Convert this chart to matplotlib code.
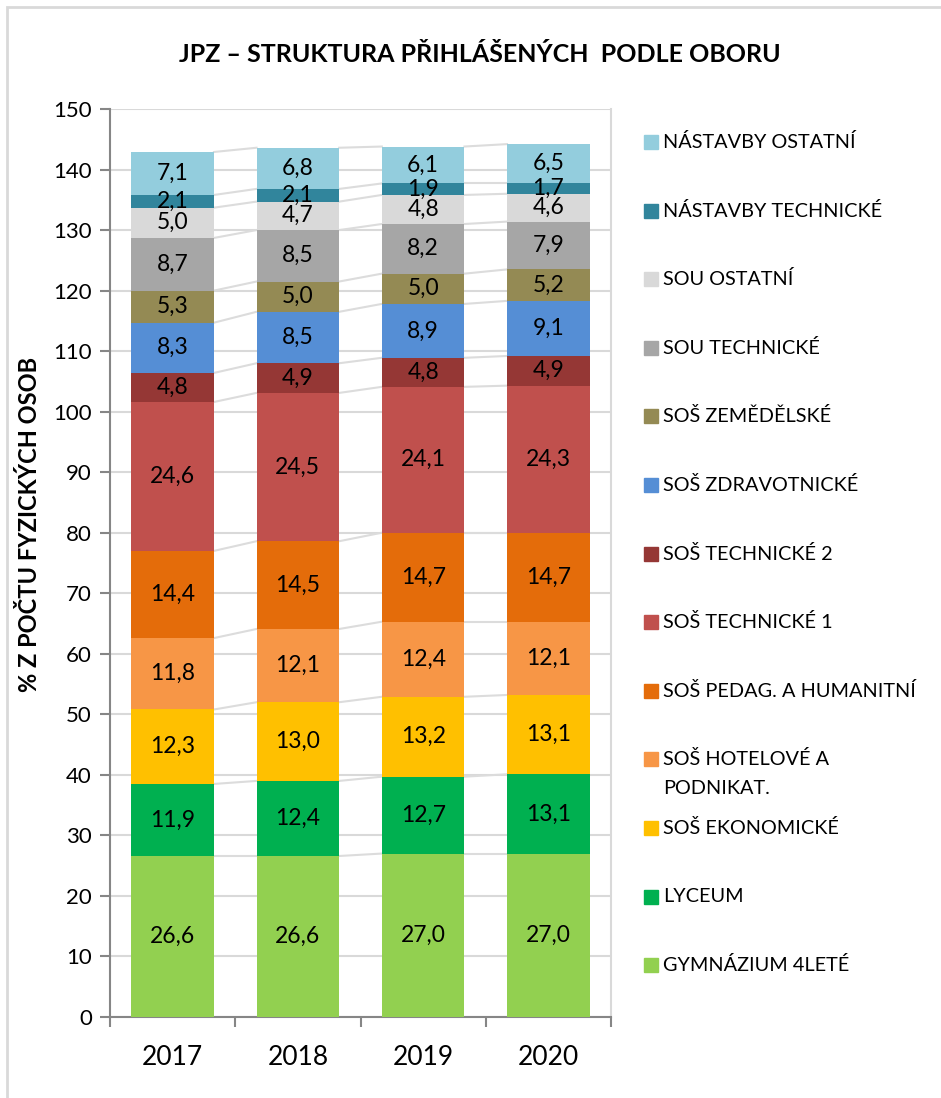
import numpy as np
import matplotlib.pyplot as plt
from matplotlib.patches import Rectangle

plt.rcParams['font.family'] = ['Lato', 'DejaVu Sans']

years = ['2017', '2018', '2019', '2020']

# bottom to top
obory = ['GYMNÁZIUM 4LETÉ', 'LYCEUM', 'SOŠ EKONOMICKÉ', 'SOŠ HOTELOVÉ A\nPODNIKAT.',
         'SOŠ PEDAG. A HUMANITNÍ', 'SOŠ TECHNICKÉ 1', 'SOŠ TECHNICKÉ 2', 'SOŠ ZDRAVOTNICKÉ',
         'SOŠ ZEMĚDĚLSKÉ', 'SOU TECHNICKÉ', 'SOU OSTATNÍ', 'NÁSTAVBY TECHNICKÉ', 'NÁSTAVBY OSTATNÍ']

gymnazium = [26.6, 26.6, 27.0, 27.0]
lyceum = [11.9, 12.4, 12.7, 13.1]
ekonomicke = [12.3, 13.0, 13.2, 13.1]
hotelove = [11.8, 12.1, 12.4, 12.1]
pedag = [14.4, 14.5, 14.7, 14.7]
tech1 = [24.6, 24.5, 24.1, 24.3]
tech2 = [4.8, 4.9, 4.8, 4.9]
zdrav = [8.3, 8.5, 8.9, 9.1]
zemed = [5.3, 5.0, 5.0, 5.2]
sou_tech = [8.7, 8.5, 8.2, 7.9]
sou_ost = [5.0, 4.7, 4.8, 4.6]
nast_tech = [2.1, 2.1, 1.9, 1.7]
nast_ost = [7.1, 6.8, 6.1, 6.5]

series = [gymnazium, lyceum, ekonomicke, hotelove, pedag, tech1, tech2, zdrav,
          zemed, sou_tech, sou_ost, nast_tech, nast_ost]

colors = ['#92D050', '#00B050', '#FFC000', '#F79646', '#E46C0A', '#C0504D', '#953735',
          '#558ED5', '#948A54', '#A6A6A6', '#D9D9D9', '#31859C', '#93CDDD']

W, H = 941, 1098
fig = plt.figure(figsize=(W/100, H/100), dpi=100)
ax = fig.add_axes([110/W, 1-1017/H, 501/W, 908/H])

x = np.arange(len(years))
bw = 0.66
bottom = np.zeros(len(years))
for vals, col in zip(series, colors):
    vals = np.array(vals)
    ax.bar(x, vals, bw, bottom=bottom, color=col, zorder=3)
    for xi, b, v in zip(x, bottom, vals):
        ax.text(xi, b + v/2, f'{v:.1f}'.replace('.', ','), ha='center', va='center',
                fontsize=16.5, color='black', zorder=4)
    top = bottom + vals
    # series lines
    for i in range(len(years) - 1):
        ax.plot([x[i] + bw/2, x[i+1] - bw/2], [top[i], top[i+1]], color='#DCDCDC',
                lw=1.5, zorder=2)
    bottom = top

ax.set_xlim(-0.5, 3.5)
ax.set_ylim(0, 150)
ax.set_yticks(np.arange(0, 151, 10))
ax.set_xticks(x)
ax.set_xticklabels(years, fontsize=19)
ax.tick_params(axis='x', length=0, pad=20)
ax.set_xticks(np.arange(-0.5, 3.6, 1), minor=True)
ax.tick_params(axis='x', which='minor', length=7, width=1.5, color='#868686')
ax.tick_params(axis='y', labelsize=16, length=7, width=1.5, color='#868686', pad=6)
ax.grid(axis='y', color='#D9D9D9', lw=1.5, zorder=0)
for s in ['left', 'bottom']:
    ax.spines[s].set_color('#868686')
    ax.spines[s].set_linewidth(1.5)
for s in ['top', 'right']:
    ax.spines[s].set_color('#D9D9D9')
    ax.spines[s].set_linewidth(1.5)
ax.spines['top'].set_visible(False)

fig.text(30/W, 1-524/H, '% Z POČTU FYZICKÝCH OSOB', rotation=90, ha='center', va='center',
         fontsize=17, fontweight='bold')
fig.text(480/W, 1-55/H, 'JPZ – STRUKTURA PŘIHLÁŠENÝCH  PODLE OBORU', ha='center', va='center',
         fontsize=18, fontweight='bold')

# legend (top item = last series)
for j, (name, col) in enumerate(zip(obory[::-1], colors[::-1])):
    yc = 142 + 68.6*j
    fig.patches.append(Rectangle((644/W, 1-(yc+7)/H), 14/W, 14/H, color=col,
                                 transform=fig.transFigure, figure=fig))
    lines = name.split('\n')
    for k, ln in enumerate(lines):
        fig.text(663/W, 1-(yc + 29*k)/H, ln, ha='left', va='center', fontsize=14.3)

# chart border
fig.patches.append(Rectangle((7/W, -0.1), 1.2, 1-7/H+0.1, fill=False, edgecolor='#D9D9D9',
                             lw=2, transform=fig.transFigure, figure=fig))

fig.savefig('out.png', dpi=100)
